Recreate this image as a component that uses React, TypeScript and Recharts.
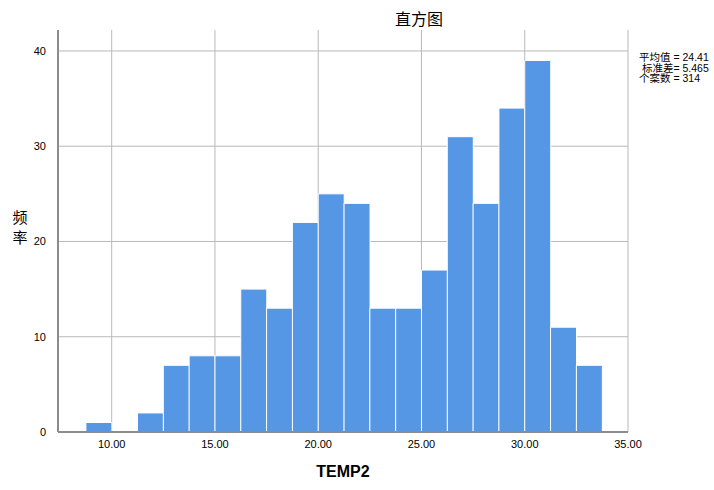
import React from 'react'
import { ComposedChart, Bar, XAxis, YAxis, CartesianGrid } from 'recharts'

// bin centres (bin width 1.25) and counts
const binMids = [
  9.375, 10.625, 11.875, 13.125, 14.375, 15.625, 16.875, 18.125, 19.375, 20.625,
  21.875, 23.125, 24.375, 25.625, 26.875, 28.125, 29.375, 30.625, 31.875, 33.125,
]
const counts = [1, 0, 2, 7, 8, 8, 15, 13, 22, 25, 24, 13, 13, 17, 31, 24, 34, 39, 11, 7]

const xTicks = [10, 15, 20, 25, 30, 35]
const yTicks = [0, 10, 20, 30, 40]
const statLines = ['平均值 = 24.41', ' 标准差= 5.465', '个案数 = 314']

const data = binMids.map((x, i) => ({ x, count: counts[i] }))

const latin = '"Liberation Sans", Arial, sans-serif'
const cjk = '"Liberation Sans", "Noto Sans CJK SC", sans-serif'

export default function App() {
  return (
    <div style={{ position: 'absolute', left: 0, top: 0, width: 714, height: 490, background: '#fff' }}>
      <ComposedChart
        width={714}
        height={490}
        data={data}
        barCategoryGap={0}
        margin={{ top: 30, right: 86, bottom: 38, left: 38 }}
      >
        <CartesianGrid stroke="#b9b9b9" horizontalValues={[10, 20, 30, 40]} verticalValues={xTicks} />
        <XAxis
          dataKey="x"
          type="number"
          domain={[7.4, 35]}
          ticks={xTicks}
          tickFormatter={(v: number) => v.toFixed(2)}
          tickLine={false}
          axisLine={{ stroke: '#8c8c8c', strokeWidth: 2 }}
          tick={{ fill: '#000', fontSize: 11, fontFamily: latin }}
          tickMargin={2}
          height={20}
          allowDataOverflow
        />
        <YAxis
          type="number"
          domain={[0, 42.2]}
          ticks={yTicks}
          tickLine={false}
          axisLine={{ stroke: '#8c8c8c', strokeWidth: 2 }}
          tick={{ fill: '#000', fontSize: 11, fontFamily: latin }}
          tickMargin={6}
          width={20}
          allowDataOverflow
        />
        <Bar dataKey="count" fill="#5596E5" stroke="#fff" strokeWidth={1} isAnimationActive={false} />
      </ComposedChart>

      <div style={{ position: 'absolute', left: 419, top: 6, transform: 'translateX(-50%)', fontFamily: cjk, fontSize: 16, color: '#000' }}>
        直方图
      </div>
      <div style={{ position: 'absolute', left: 11, top: 208, width: 18, fontFamily: cjk, fontSize: 15, lineHeight: '20px', color: '#000', textAlign: 'center' }}>
        频<br />率
      </div>
      <div style={{ position: 'absolute', left: 343, top: 463, transform: 'translateX(-50%)', fontFamily: latin, fontSize: 16, fontWeight: 'bold', color: '#000' }}>
        TEMP2
      </div>
      <div style={{ position: 'absolute', left: 639, top: 52, fontFamily: cjk, fontSize: 10.5, lineHeight: '10.5px', color: '#000', whiteSpace: 'pre' }}>
        {statLines.map((s) => (
          <div key={s}>{s}</div>
        ))}
      </div>
    </div>
  )
}
